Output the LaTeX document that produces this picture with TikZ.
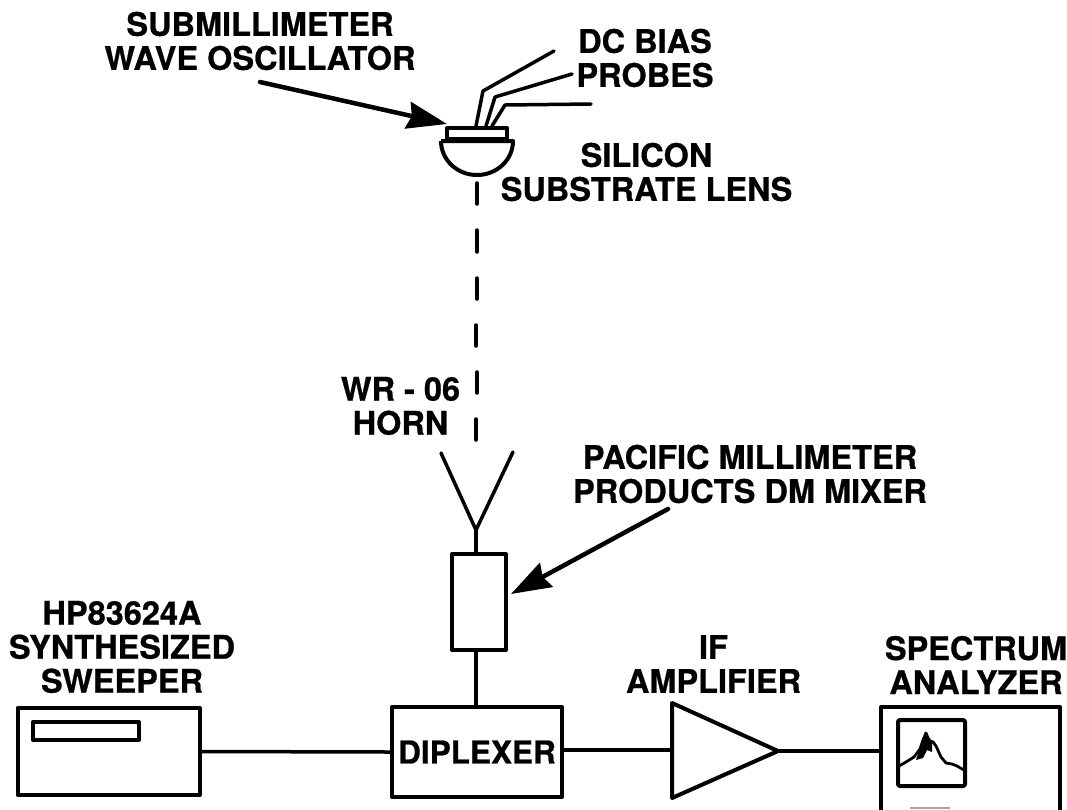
\documentclass[tikz,border=0pt]{standalone}
\usepackage{fontspec}
\setmainfont{TeX Gyre Heros}[BoldFeatures={FakeBold=0.7}]
\usetikzlibrary{arrows.meta}
\begin{document}
\begin{tikzpicture}[x=1pt,y=-1pt,
  lab/.style={font=\fontsize{32.5}{34}\selectfont\bfseries,align=center,inner sep=0pt,text=black},
  ln/.style={draw=black,line width=3.5pt,line join=round},
  boxln/.style={draw=black,line width=4pt,line join=round},
  pointer/.style={draw=black,line width=4.5pt,line cap=round,-{Stealth[length=40pt,width=27pt,inset=4pt]}},
  beam/.style={draw=black,line width=3.5pt,line cap=round}]
\useasboundingbox (0,0) rectangle (1067,809);
\clip (0,0) rectangle (1067,809);
% labels
\node[lab] (tOsc) at (260,41) {SUBMILLIMETER\\WAVE OSCILLATOR};
\node[lab] (tDc) at (645,58) {DC BIAS\\PROBES};
\node[lab] (tLens) at (646.5,172) {SILICON\\SUBSTRATE LENS};
\node[lab] (tHorn) at (400.5,406) {WR - 06\\HORN};
\node[lab] (tPac) at (750,474) {PACIFIC MILLIMETER\\PRODUCTS DM MIXER};
\node[lab] (tHp) at (122,647) {HP83624A\\SYNTHESIZED\\SWEEPER};
\node[lab] (tIf) at (713.5,664) {IF\\AMPLIFIER};
\node[lab] (tSa) at (976,665) {SPECTRUM\\ANALYZER};
% boxes
\node[boxln,minimum width=182pt,minimum height=87pt,inner sep=0pt] (sweeper) at (108.5,751.5) {};
\node[boxln,minimum width=106pt,minimum height=18pt,inner sep=0pt] (panel) at (86,731) {};
\node[boxln,minimum width=170pt,minimum height=90pt,inner sep=0pt,
  font=\fontsize{31.5}{34}\selectfont\bfseries] (diplexer) at (477,752) {DIPLEXER};
\node[boxln,minimum width=54pt,minimum height=96pt,inner sep=0pt] (mixer) at (479,602) {};
\coordinate (hornapex) at (476,530);
\coordinate (hornl) at (441,453);
\coordinate (hornr) at (513,452);
\draw[ln,line cap=round] (hornl) -- (hornapex) -- (hornr);
\draw[ln] (hornapex) -- (mixer.north -| hornapex);
\draw[ln] (mixer.south -| hornapex) -- (diplexer.north -| hornapex);
\draw[ln] (sweeper.east) -- (diplexer.west);
% amplifier
\coordinate (ampa) at (672,703);
\coordinate (ampb) at (672,798);
\coordinate (ampc) at (778,751);
\draw[boxln] (ampa) -- (ampc) -- (ampb) -- cycle;
\coordinate (ampin) at (672,750);
\draw[ln] (diplexer.east |- ampin) -- (ampin);
% spectrum analyzer
\draw[boxln] (881,830) -- (881,707) -- (1060,707) -- (1060,830);
\coordinate (sain) at (881,751);
\draw[ln] (ampc) -- (sain);
\draw[boxln,rounded corners=2pt] (898,720) rectangle (965,786);
\draw[black,line width=2.8pt,line join=round] (899,766) -- (906,762) -- (914,757) -- (920,749) -- (923,740) -- (926,733) -- (928,738) -- (930,741) -- (933,742) -- (936,746) -- (941,757) -- (946,763) -- (952,764) -- (957,766) -- (964,770);
\fill[black] (916,760) -- (921,745) -- (925,732) -- (929,741) -- (932,742) -- (932,752) -- (927,750) -- (923,758) -- cycle;
\fill[gray!70] (910,807) rectangle (950,809);
% lens
\draw[ln,line width=4pt] (441,141) -- (513,141) arc[start angle=0,end angle=-180,x radius=36pt,y radius=34pt];
\draw[boxln] (447,128) rectangle (507,139);
% probes
\coordinate (p1) at (476,126);
\coordinate (p2) at (486,126);
\coordinate (p3) at (492,126);
\coordinate (p1a) at (483,91);
\coordinate (p2a) at (495,97);
\coordinate (p3a) at (505,105);
\coordinate (p1b) at (554,51);
\coordinate (p2b) at (572,74);
\coordinate (p3b) at (591,104);
\draw[ln,line cap=round] (p1) -- (p1a) -- (p1b);
\draw[ln,line cap=round] (p2) -- (p2a) -- (p2b);
\draw[ln,line cap=round] (p3) -- (p3a) -- (p3b);
% beam
\draw[beam] (477,183) -- (477,204);
\draw[beam] (477,230) -- (477,252);
\draw[beam] (477,278) -- (477,299);
\draw[beam] (476,325) -- (476,346);
\draw[beam] (477,372) -- (477,393);
\draw[beam] (476,419) -- (476,440);
% pointers
\coordinate (o1) at (260,82);
\coordinate (o2) at (447,124);
\draw[pointer] (o1) -- (o2);
\coordinate (m1) at (668,509);
\coordinate (m2) at (511,594);
\draw[pointer] (m1) -- (m2);
\end{tikzpicture}
\end{document}
